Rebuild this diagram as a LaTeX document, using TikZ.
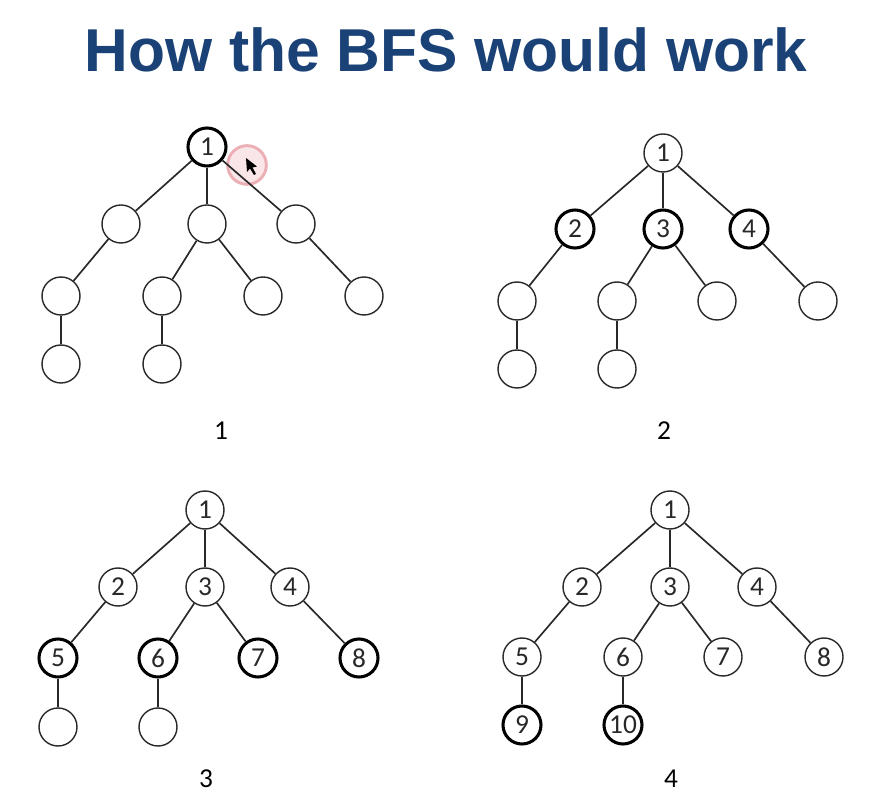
\documentclass[tikz,border=0pt]{standalone}
\usepackage{fontspec}
\setmainfont{Carlito}
\newfontfamily\titlefont{Liberation Sans}
\usetikzlibrary{arrows.meta}
\definecolor{BFSNavy}{RGB}{27,66,118}
\definecolor{BFSInk}{RGB}{40,40,40}
\definecolor{BFSPink}{RGB}{228,140,150}
\begin{document}
\begin{tikzpicture}[
    x=0.75pt, y=-0.75pt,
    vert/.style={circle, draw=BFSInk, fill=white, line width=1.05pt, minimum size=28.5pt,
                 inner sep=0pt, font=\fontsize{20.5}{20.5}\selectfont, text=BFSInk},
    seen/.style={vert, draw=black, line width=2.3pt},
    link/.style={draw=BFSInk, line width=1.25pt},
    caption/.style={font=\fontsize{20.5}{20.5}\selectfont, text=black}
  ]
  \useasboundingbox (0,0) rectangle (882,812);
  \node[font=\titlefont\bfseries\fontsize{45.4}{46}\selectfont, BFSNavy] (title) at (446,50) {How the BFS would work};

  % cursor ring sits under the first tree
  \node[circle, draw=BFSPink!70, fill=BFSPink!22, line width=2.2pt, minimum size=29pt, inner sep=0pt] (ring) at (247,165) {};

  % step 1
  \foreach \n/\x/\y/\t/\s in {1/207/147/1/seen, 2/121/224//vert, 3/207/224//vert, 4/296/224//vert,
      5/61/296//vert, 6/162/296//vert, 7/263/296//vert, 8/364/296//vert, 9/61/364//vert, 10/162/364//vert} {
    \node[\s] (a\n) at (\x,\y) {\t};
  }
  % step 2
  \foreach \n/\x/\y/\t/\s in {1/663/153/1/vert, 2/575/229/2/seen, 3/663/229/3/seen, 4/749/229/4/seen,
      5/517/301//vert, 6/617/301//vert, 7/717/301//vert, 8/818/301//vert, 9/517/369//vert, 10/617/369//vert} {
    \node[\s] (b\n) at (\x,\y) {\t};
  }
  % step 3
  \foreach \n/\x/\y/\t/\s in {1/205/510/1/vert, 2/118/587/2/vert, 3/205/587/3/vert, 4/290/587/4/vert,
      5/58/658/5/seen, 6/158/658/6/seen, 7/258/658/7/seen, 8/359/658/8/seen, 9/58/727//vert, 10/158/727//vert} {
    \node[\s] (c\n) at (\x,\y) {\t};
  }
  % step 4
  \foreach \n/\x/\y/\t/\s in {1/670/510/1/vert, 2/582/587/2/vert, 3/670/587/3/vert, 4/757/587/4/vert,
      5/522/657/5/vert, 6/623/657/6/vert, 7/723/657/7/vert, 8/824/657/8/vert, 9/522/725/9/seen, 10/623/725/10/seen} {
    \node[\s] (d\n) at (\x,\y) {\t};
  }

  \foreach \g in {a, b, c, d} {
    \foreach \p/\q in {1/2, 1/3, 1/4, 2/5, 3/6, 3/7, 4/8, 5/9, 6/10} {
      \draw[link] (\g\p)--(\g\q);
    }
  }

  \node[caption] (cap1) at (221,431) {1};
  \node[caption] (cap2) at (664,431) {2};
  \node[caption] (cap3) at (206,779) {3};
  \node[caption] (cap4) at (671,779) {4};

  % mouse pointer
  \fill[black] (246,158) -- (247,172) -- (250,168.5) -- (254,175) -- (256,174) -- (252.5,167.5) -- (257,166.5) -- cycle;
\end{tikzpicture}
\end{document}
